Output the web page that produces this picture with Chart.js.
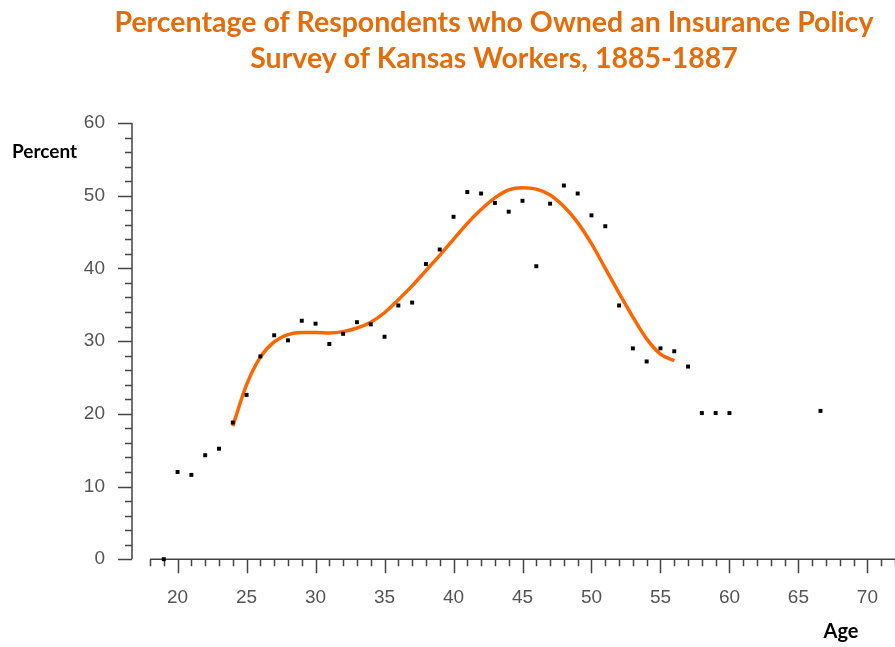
<!DOCTYPE html>
<html>
<head>
<meta charset="utf-8">
<script src="https://cdn.jsdelivr.net/npm/chart.js@4.4.1/dist/chart.umd.min.js"></script>
<style>
  html, body { margin: 0; padding: 0; background: #fff; }
  #wrap { width: 895px; height: 647px; }
</style>
</head>
<body>
<div id="wrap"><canvas id="insuranceChart" width="895" height="647"></canvas></div>
<script>
// survey points: age and percent owning a policy
const ages = [19, 20, 21, 22, 23, 24, 25, 26, 27, 28, 29, 30, 31, 32, 33, 34, 35, 36, 37, 38, 39, 40,
  41, 42, 43, 44, 45, 46, 47, 48, 49, 50, 51, 52, 53, 54, 55, 56, 57, 58, 59, 60, 66.6];
const percents = [0, 12.0, 11.6, 14.3, 15.2, 18.8, 22.6, 27.9, 30.8, 30.1, 32.8, 32.4, 29.6, 31.0, 32.6, 32.3,
  30.6, 34.9, 35.3, 40.6, 42.6, 47.1, 50.5, 50.3, 49.0, 47.8, 49.3, 40.3, 48.9, 51.4, 50.3, 47.3, 45.8,
  34.9, 29.0, 27.2, 29.0, 28.6, 26.5, 20.1, 20.1, 20.1, 20.4];

// smoothed trend (orange curve)
const curveAges = [24, 25, 26, 27, 28, 29, 30, 31, 32, 33, 34, 35, 36, 37, 38, 39, 40,
  41, 42, 43, 44, 45, 46, 47, 48, 49, 50, 51, 52, 53, 54, 55, 56];
const curvePercents = [18.3, 24.0, 27.8, 29.9, 30.9, 31.2, 31.2, 31.1, 31.3, 31.8, 32.6, 33.9, 35.7, 37.6,
  39.7, 41.8, 44.0, 46.2, 48.1, 49.7, 50.8, 51.1, 50.9, 50.1, 48.5, 46.3, 43.4, 40.0, 36.6, 33.3, 30.3,
  28.2, 27.3];

const xTicks = [20, 25, 30, 35, 40, 45, 50, 55, 60, 65, 70];
const yTicks = [0, 10, 20, 30, 40, 50, 60];

const titleLines = ['Percentage of Respondents who Owned an Insurance Policy', 'Survey of Kansas Workers, 1885-1887'];

// axis lines + minor ticks, drawn like the old stats package did (y axis sits off to the left)
const axisPlugin = {
  id: 'axisPlugin',
  beforeDatasetsDraw(chart) {
    const { ctx, chartArea, scales: { x, y } } = chart;
    const yAxisX = chartArea.left - 18;
    const baseY = y.getPixelForValue(0);
    ctx.save();
    ctx.strokeStyle = '#444';
    ctx.lineWidth = 1.5;
    ctx.beginPath();
    ctx.moveTo(yAxisX, y.getPixelForValue(60));
    ctx.lineTo(yAxisX, baseY);
    for (let v = 0; v <= 60; v += 2) {
      const py = Math.round(y.getPixelForValue(v)) + 0.5;
      const len = v % 10 === 0 ? 14 : 7;
      ctx.moveTo(yAxisX - len, py);
      ctx.lineTo(yAxisX, py);
    }
    ctx.moveTo(chartArea.left, baseY);
    ctx.lineTo(chartArea.right, baseY);
    for (let v = 18; v <= 72; v++) {
      const px = Math.round(x.getPixelForValue(v)) + 0.5;
      const len = v % 5 === 0 ? 14 : 7;
      ctx.moveTo(px, baseY);
      ctx.lineTo(px, baseY + len);
    }
    ctx.stroke();
    ctx.restore();
  },
  afterDraw(chart) {
    const { ctx } = chart;
    ctx.save();
    ctx.fillStyle = '#E46C0A';
    ctx.font = 'bold 28.5px Lato';
    ctx.textAlign = 'center';
    ctx.textBaseline = 'middle';
    ctx.fillText(titleLines[0], 494, 23);
    ctx.fillText(titleLines[1], 494, 59);
    ctx.fillStyle = '#000';
    ctx.textAlign = 'left';
    ctx.font = 'bold 19px Lato';
    ctx.fillText('Percent', 12, 152);
    ctx.font = 'bold 20px Lato';
    ctx.textAlign = 'center';
    ctx.fillText('Age', 841, 632);
    ctx.restore();
  }
};

const ctx = document.getElementById('insuranceChart');
const myChart = new Chart(ctx, {
  type: 'scatter',
  data: {
    datasets: [{
      label: 'Respondents',
      data: ages.map((a, i) => ({ x: a, y: percents[i] })),
      backgroundColor: '#000',
      borderWidth: 0,
      pointStyle: 'rect',
      pointRadius: 2.8,
      clip: false,
      order: 0
    }, {
      label: 'Trend',
      type: 'line',
      data: curveAges.map((a, i) => ({ x: a, y: curvePercents[i] })),
      borderColor: '#FF6600',
      borderWidth: 3.5,
      pointRadius: 0,
      cubicInterpolationMode: 'monotone',
      fill: false,
      order: 1
    }]
  },
  options: {
    responsive: false,
    animation: false,
    layout: { autoPadding: false, padding: { top: 123, right: -1, bottom: 11, left: 0 } },
    plugins: {
      legend: { display: false },
      tooltip: { enabled: false },
      title: { display: false }
    },
    scales: {
      x: {
        type: 'linear',
        min: 18,
        max: 72,
        afterBuildTicks: scale => { scale.ticks = xTicks.map(v => ({ value: v })); },
        afterFit: scale => { scale.paddingLeft = 0; scale.paddingRight = 0; },
        grid: { display: false, drawTicks: false },
        border: { display: false },
        ticks: { color: '#555', font: { family: 'Liberation Sans', size: 19 }, padding: 27 }
      },
      y: {
        min: 0,
        max: 60,
        afterBuildTicks: scale => { scale.ticks = yTicks.map(v => ({ value: v })); },
        afterFit: scale => { scale.width = 150; },
        grid: { display: false, drawTicks: false },
        border: { display: false },
        ticks: { color: '#555', font: { family: 'Liberation Sans', size: 19 }, padding: 45 }
      }
    }
  },
  plugins: [axisPlugin]
});
</script>
</body>
</html>
